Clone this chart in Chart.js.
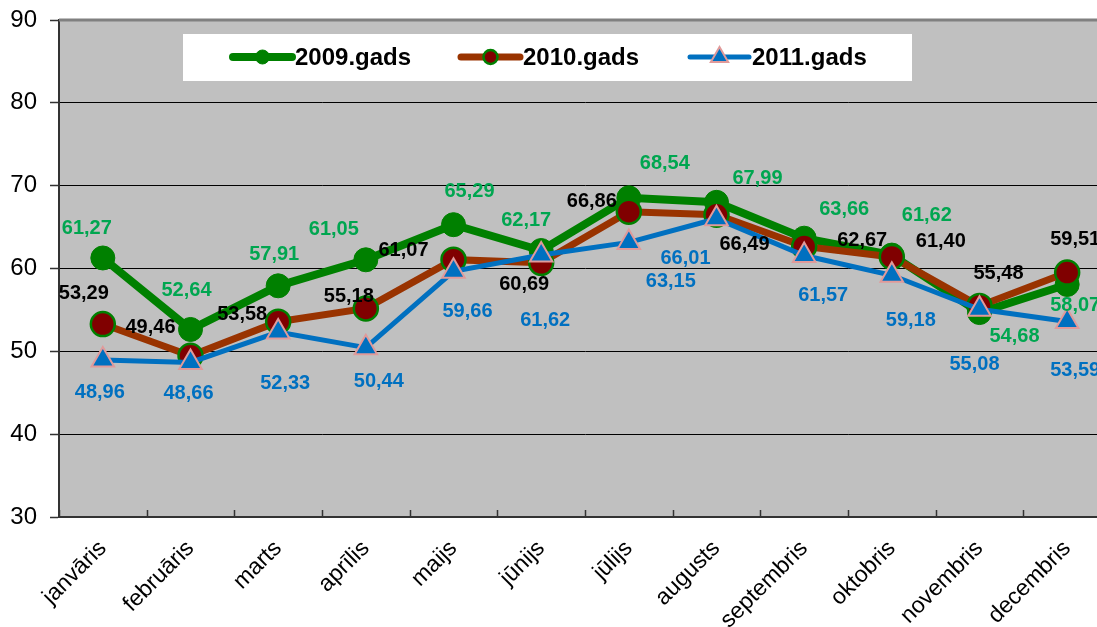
<!DOCTYPE html>
<html>
<head>
<meta charset="utf-8">
<script src="https://cdn.jsdelivr.net/npm/chart.js@4/dist/chart.umd.min.js"></script>
<style>
  html, body { margin: 0; padding: 0; background: #fff; overflow: hidden; }
  #wrap { width: 1112px; height: 627px; }
</style>
</head>
<body>
<div id="wrap"><canvas id="chart" width="1112" height="627"></canvas></div>
<script>
// dati
const months = ['janvāris', 'februāris', 'marts', 'aprīlis', 'maijs', 'jūnijs',
  'jūlijs', 'augusts', 'septembris', 'oktobris', 'novembris', 'decembris'];
const seriesNames = ['2009.gads', '2010.gads', '2011.gads'];
const values2009 = [61.27, 52.64, 57.91, 61.05, 65.29, 62.17, 68.54, 67.99, 63.66, 61.62, 54.68, 58.07];
const values2010 = [53.29, 49.46, 53.58, 55.18, 61.07, 60.69, 66.86, 66.49, 62.67, 61.40, 55.48, 59.51];
const values2011 = [48.96, 48.66, 52.33, 50.44, 59.66, 61.62, 63.15, 66.01, 61.57, 59.18, 55.08, 53.59];
const yMin = 30;
const yMax = 90;
const yStep = 10;

// kur likt skaitlus pie punktiem (px no punkta)
const offsets2009 = [[-16,-29],[-4,-39],[-4,-31],[-32,-30],[16,-33],[-15,-30],[36,-34],[41,-24],[40,-29],[35,-40],[35,24],[8,21]];
const offsets2010 = [[-19,-31],[-40,-28],[-36,-7],[-17,-12],[-50,-9],[-17,22],[-37,-10],[28,30],[58,-6],[49,-15],[19,-32],[8,-33]];
const offsets2011 = [[-3,33],[-2,31],[7,51],[13,34],[14,40],[4,65],[42,39],[-31,40],[19,40],[19,45],[-5,55],[8,49]];

const FONT = '"Liberation Sans", Arial, sans-serif';

const labelColors = ['#00a650', '#000000', '#0070c0'];
const allOffsets = [offsets2009, offsets2010, offsets2011];

// peleks fons + ramis
const plotBg = {
  id: 'plotBg',
  beforeDraw(chart) {
    const { ctx, chartArea: a } = chart;
    ctx.save();
    ctx.fillStyle = '#c0c0c0';
    ctx.fillRect(a.left, a.top, a.right - a.left, a.bottom - a.top);
    ctx.restore();
  },
  beforeDatasetsDraw(chart) {
    const { ctx, chartArea: a } = chart;
    ctx.save();
    ctx.strokeStyle = '#808080';
    ctx.lineWidth = 3;
    ctx.beginPath();
    ctx.moveTo(a.left, a.top);
    ctx.lineTo(a.right, a.top);
    ctx.lineTo(a.right, a.bottom);
    ctx.stroke();
    // mazas iekšejās atzīmes uz x ass
    const xs = chart.scales.x;
    const half = (xs.getPixelForValue(1) - xs.getPixelForValue(0)) / 2;
    ctx.strokeStyle = '#333';
    ctx.lineWidth = 1.5;
    for (let i = 0; i <= months.length; i++) {
      const px = Math.round(xs.getPixelForValue(i) - half) + 0.5;
      ctx.beginPath();
      ctx.moveTo(px, a.bottom);
      ctx.lineTo(px, a.bottom - 7);
      ctx.stroke();
    }
    ctx.restore();
  }
};

// skaitli pie punktiem
const valueLabels = {
  id: 'valueLabels',
  afterDatasetsDraw(chart) {
    const ctx = chart.ctx;
    ctx.save();
    ctx.font = 'bold 20px ' + FONT;
    ctx.textAlign = 'center';
    ctx.textBaseline = 'middle';
    chart.data.datasets.forEach((ds, d) => {
      const meta = chart.getDatasetMeta(d);
      ctx.fillStyle = labelColors[d];
      meta.data.forEach((pt, i) => {
        const off = allOffsets[d][i];
        const txt = ds.data[i].toFixed(2).replace('.', ',');
        ctx.fillText(txt, pt.x + off[0], pt.y + off[1]);
      });
    });
    ctx.restore();
  }
};

// legenda baltā kastē
const boxLegend = {
  id: 'boxLegend',
  afterDraw(chart) {
    const ctx = chart.ctx;
    ctx.save();
    ctx.fillStyle = '#ffffff';
    ctx.fillRect(183, 34, 729, 47);
    const cy = 57;
    const starts = [233, 461, 690];
    chart.data.datasets.forEach((ds, d) => {
      const x0 = starts[d];
      ctx.strokeStyle = ds.borderColor;
      ctx.lineWidth = ds.borderWidth;
      ctx.lineCap = 'round';
      ctx.beginPath();
      ctx.moveTo(x0, cy);
      ctx.lineTo(x0 + 59, cy);
      ctx.stroke();
      const mx = x0 + 29.5;
      ctx.fillStyle = ds.pointBackgroundColor;
      ctx.strokeStyle = ds.pointBorderColor;
      ctx.lineWidth = ds.pointBorderWidth;
      ctx.beginPath();
      if (ds.pointStyle === 'triangle') {
        const r = 10;
        ctx.moveTo(mx, cy - r);
        ctx.lineTo(mx + r * 0.866, cy + r / 2);
        ctx.lineTo(mx - r * 0.866, cy + r / 2);
        ctx.closePath();
      } else {
        ctx.arc(mx, cy, 7, 0, Math.PI * 2);
      }
      ctx.fill();
      if (ds.pointBorderWidth) ctx.stroke();
      ctx.fillStyle = '#000';
      ctx.font = 'bold 24px ' + FONT;
      ctx.textAlign = 'left';
      ctx.textBaseline = 'middle';
      ctx.fillText(ds.label, x0 + 62, cy + 1);
    });
    ctx.restore();
  }
};

const ctx = document.getElementById('chart');

new Chart(ctx, {
  type: 'line',
  data: {
    labels: months,
    datasets: [
      {
        label: seriesNames[0],
        data: values2009,
        borderColor: '#008000',
        borderWidth: 8,
        pointStyle: 'circle',
        pointRadius: 12,
        pointBackgroundColor: '#008000',
        pointBorderColor: '#008000',
        pointBorderWidth: 1,
        tension: 0,
        order: 3
      },
      {
        label: seriesNames[1],
        data: values2010,
        borderColor: '#993300',
        borderWidth: 7,
        pointStyle: 'circle',
        pointRadius: 12,
        pointBackgroundColor: '#800000',
        pointBorderColor: '#008000',
        pointBorderWidth: 2.5,
        tension: 0,
        order: 2
      },
      {
        label: seriesNames[2],
        data: values2011,
        borderColor: '#0070c0',
        borderWidth: 5,
        pointStyle: 'triangle',
        pointRadius: 13,
        pointBackgroundColor: '#0070c0',
        pointBorderColor: '#e09a9a',
        pointBorderWidth: 2,
        tension: 0,
        order: 1
      }
    ]
  },
  options: {
    responsive: false,
    animation: false,
    events: [],
    layout: { autoPadding: false, padding: { top: 20, right: 1, left: 0, bottom: 0 } },
    plugins: {
      legend: { display: false },
      tooltip: { enabled: false }
    },
    scales: {
      x: {
        offset: true,
        grid: { display: false, drawTicks: false },
        border: { display: true, color: '#333333', width: 2 },
        ticks: {
          autoSkip: false,
          maxRotation: 45,
          minRotation: 45,
          padding: 18,
          color: '#000',
          font: { family: FONT, size: 23 }
        },
        afterFit(scale) {
          scale.height = 110;
          scale.paddingLeft = 0;
          scale.paddingRight = 0;
        }
      },
      y: {
        min: yMin,
        max: yMax,
        grid: { color: '#000000', lineWidth: 1, tickLength: 9, tickColor: '#333333', tickWidth: 1.5 },
        border: { display: true, color: '#333333', width: 2 },
        ticks: {
          stepSize: yStep,
          padding: 13,
          color: '#000',
          font: { family: FONT, size: 24 }
        },
        afterFit(scale) {
          scale.width = 59;
          scale.paddingTop = 0;
          scale.paddingBottom = 0;
        }
      }
    }
  },
  plugins: [plotBg, valueLabels, boxLegend]
});
</script>
</body>
</html>
